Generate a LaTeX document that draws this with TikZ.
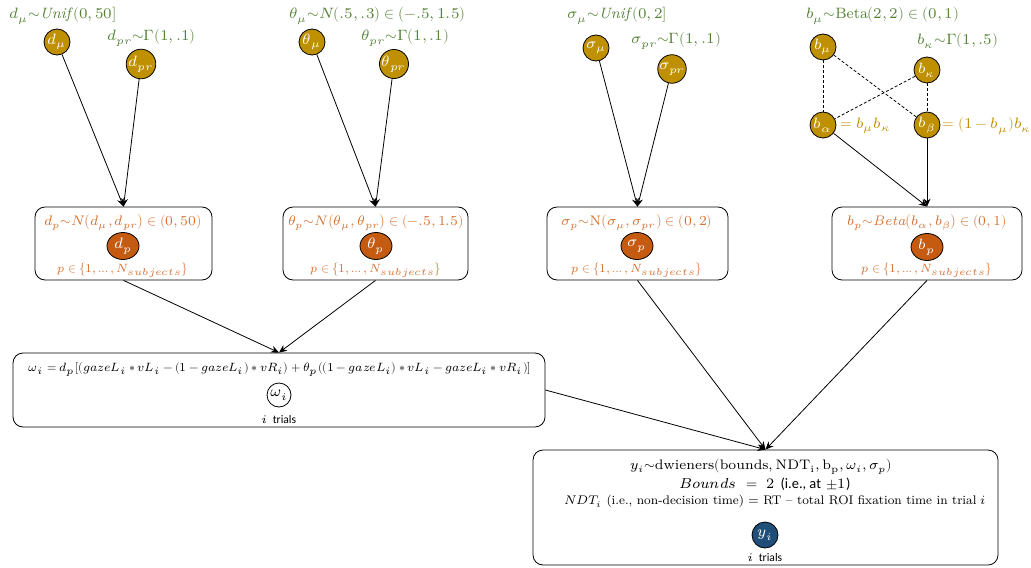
\documentclass[tikz,border=0pt]{standalone}
\usepackage{amsmath}
\usepackage{graphicx}
\usepackage{fontspec}
\usepackage{unicode-math}
\setmathfont{Latin Modern Math}
\setsansfont{Carlito}
\usetikzlibrary{positioning,arrows.meta,shapes.geometric}
\definecolor{gold}{RGB}{191,144,0}
\definecolor{leaf}{RGB}{84,130,53}
\definecolor{rust}{RGB}{197,90,17}
\definecolor{rusttext}{RGB}{214,112,48}
\definecolor{navy}{RGB}{31,78,121}
\tikzstyle{hyper} = [circle, draw, fill=gold, text=white, minimum size=13pt, inner sep=0pt]
\tikzstyle{subj} = [ellipse, draw, fill=rust, text=white, minimum width=16pt, minimum height=13.5pt, inner sep=0pt]
\tikzstyle{plate} = [rectangle, draw, rounded corners=5pt]
\tikzstyle{prior} = [text=leaf, inner sep=0pt, anchor=west]
\tikzstyle{dist} = [text=rusttext, inner sep=0pt, font=\fontsize{6.9}{8}\selectfont]
\tikzstyle{idx} = [text=rusttext, inner sep=0pt, font=\fontsize{6}{7}\selectfont]
\tikzstyle{trials} = [inner sep=0pt, font=\fontsize{5.8}{7}\selectfont]
\tikzstyle{arr} = [-{Stealth[length=4pt,width=3.5pt]}]
\tikzstyle{link} = [dash pattern=on 1.5pt off 1pt]

\begin{document}
\begin{tikzpicture}[x=0.5pt, y=-0.5pt, font=\fontsize{7.5}{9}\selectfont]
\useasboundingbox (0,0) rectangle (1031,567);
% plates
\node(DP)[plate, minimum width=88.5pt, minimum height=36.5pt] at (123.5,243.5) {};
\node(TP)[plate, minimum width=92.5pt, minimum height=36.5pt] at (375.5,243.5) {};
\node(SP)[plate, minimum width=90.5pt, minimum height=36.5pt] at (637.5,243.5) {};
\node(BP)[plate, minimum width=95pt, minimum height=36.5pt] at (927,243.5) {};
\node(W)[plate, minimum width=266pt, minimum height=37pt] at (279,390) {};
\node(Y)[plate, minimum width=232.5pt, minimum height=57.5pt] at (765.5,507.5) {};

% group level
\node(dmu)[hyper] at (57,42) {$d_\mu$};
\node(dpr)[hyper] at (141,64) {$d_{pr}$};
\node(tmu)[hyper] at (312,42) {$\theta_\mu$};
\node(tpr)[hyper] at (394,64) {$\theta_{pr}$};
\node(smu)[hyper] at (596,48) {$\sigma_\mu$};
\node(spr)[hyper] at (672,69) {$\sigma_{pr}$};
\node(bmu)[hyper] at (823,47) {$b_\mu$};
\node(bk)[hyper] at (927,70) {$b_\kappa$};
\node(ba)[hyper] at (823,125) {$b_\alpha$};
\node(bb)[hyper] at (927,125) {$b_\beta$};

\node[prior] at (9,16) {$d_\mu{\sim}\mathit{Unif}\,(0,50]$};
\node[prior] at (107,38) {$d_{pr}{\sim}\Gamma(1,.1)$};
\node[prior] at (289,16) {$\theta_\mu{\sim}N(.5,.3)\in(-.5,1.5)$};
\node[prior] at (361,38) {$\theta_{pr}{\sim}\Gamma(1,.1)$};
\node[prior] at (567,16) {$\sigma_\mu{\sim}\mathit{Unif}\,(0,2]$};
\node[prior] at (631,41) {$\sigma_{pr}{\sim}\Gamma(1,.1)$};
\node[prior] at (806,16) {$b_\mu{\sim}\mathrm{Beta}(2,2)\in(0,1)$};
\node[prior] at (917,41) {$b_\kappa{\sim}\Gamma(1,.5)$};
\node[prior, text=gold] at (840,126) {$=b_\mu b_\kappa$};
\node[prior, text=gold] at (942,126) {$=(1-b_\mu)b_\kappa$};

\draw[link] (bmu) -- (ba);
\draw[link] (bk) -- (bb);
\draw[link] (bmu) -- (bb);
\draw[link] (bk) -- (ba);

% subject level
\node[dist] at (123,222) {$d_p{\sim}N\bigl(d_\mu,d_{pr}\bigr)\in(0,50)$};
\node(dp)[subj] at (123,246) {$d_p$};
\node[idx] at (123,270) {$p\in\bigl\{1,\dots,N_{subjects}\bigr\}$};
\node[dist] at (376,222) {$\theta_p{\sim}N\bigl(\theta_\mu,\theta_{pr}\bigr)\in(-.5,1.5)$};
\node(tp)[subj] at (376,246) {$\theta_p$};
\node[idx] at (376,270) {$p\in\bigl\{1,\dots,N_{subjects}\bigr\}$};
\node[dist] at (637,222) {$\sigma_p{\sim}\mathrm{N}\bigl(\sigma_\mu,\sigma_{pr}\bigr)\in(0,2)$};
\node(sp)[subj] at (637,246) {$\sigma_p$};
\node[idx] at (637,270) {$p\in\bigl\{1,\dots,N_{subjects}\bigr\}$};
\node[dist] at (927,222) {$b_p{\sim}\mathit{Beta}\bigl(b_\alpha,b_\beta\bigr)\in(0,1)$};
\node(bp)[subj] at (927,247) {$b_p$};
\node[idx] at (927,270) {$p\in\bigl\{1,\dots,N_{subjects}\bigr\}$};

\draw[arr] (dmu) -- (DP.north);
\draw[arr] (dpr) -- (DP.north);
\draw[arr] (tmu) -- (TP.north);
\draw[arr] (tpr) -- (TP.north);
\draw[arr] (smu) -- (SP.north);
\draw[arr] (spr) -- (SP.north);
\draw[arr] (ba) -- (BP.north);
\draw[arr] (bb) -- (BP.north);

% trial level
\node[inner sep=0pt, font=\fontsize{6}{7}\selectfont] at (280,369) {$\omega_i=d_p[(gazeL_i*vL_i-(1-gazeL_i)*vR_i)+\theta_p((1-gazeL_i)*vL_i-gazeL_i*vR_i)]$};
\node(w)[circle, draw, minimum size=12pt, inner sep=0pt] at (279,395) {$\omega_i$};
\node[trials] at (279,420) {$i$ \textsf{trials}};

\node[inner sep=0pt, font=\fontsize{6.9}{8}\selectfont] at (761,467) {$y_i{\sim}\mathrm{dwieners}(\mathrm{bounds},\mathrm{NDT_i},\mathrm{b_p},\omega_i,\sigma_p)$};
\node[inner sep=0pt, font=\fontsize{7.2}{8}\selectfont] at (765,484) {$Bounds\ =\ 2$ \textsf{(i.e., at} $\pm1$\textsf{)}};
\node[inner sep=0pt] at (775,501) {\scalebox{0.835}{$NDT_i$ (i.e., non-decision time) = RT -- total ROI fixation time in trial $i$}};
\node(y)[circle, draw, fill=navy, text=white, minimum size=13pt, inner sep=0pt] at (765,535) {$y_i$};
\node[trials] at (765,558) {$i$ \textsf{trials}};

\draw[arr] (DP.south) -- (W.north);
\draw[arr] (TP.south) -- (W.north);
\draw[arr] (W.east) -- (Y.north);
\draw[arr] (SP.south) -- (Y.north);
\draw[arr] (BP.south) -- (Y.north);
\end{tikzpicture}
\end{document}
